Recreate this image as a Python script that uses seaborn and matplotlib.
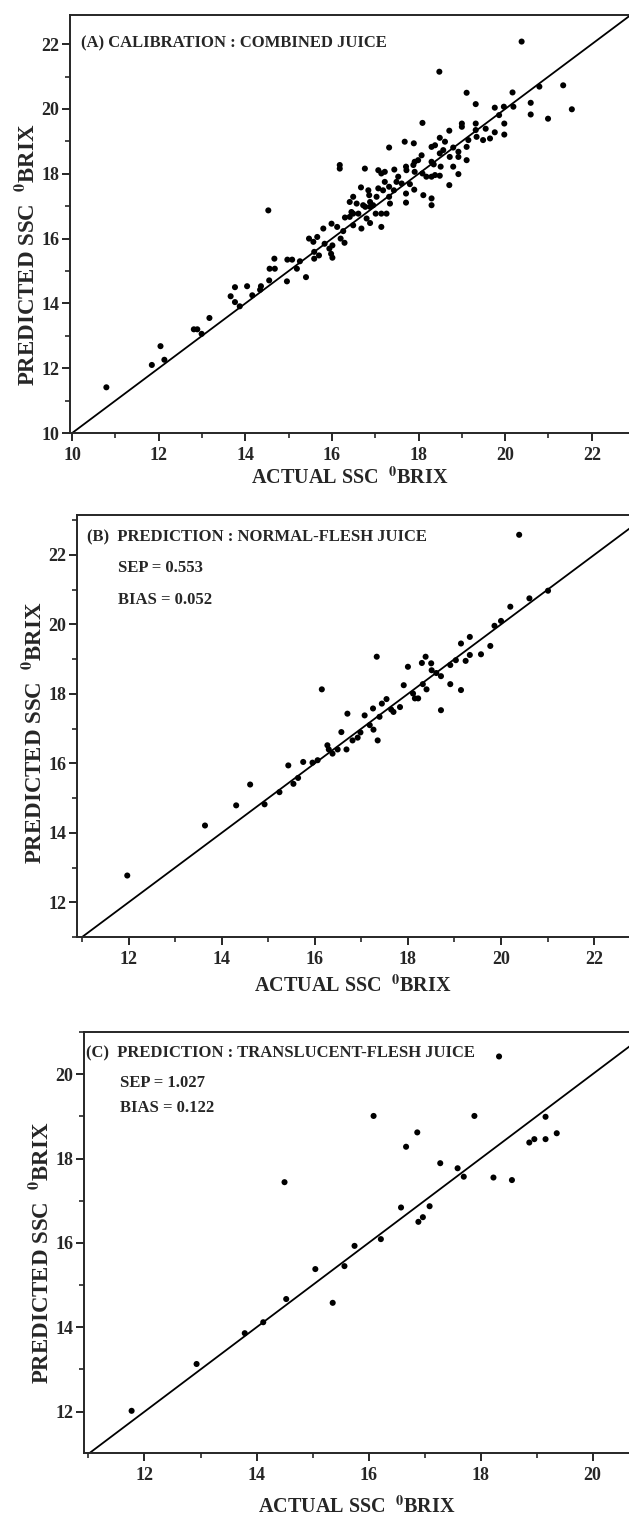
import matplotlib
matplotlib.use("Agg")
import matplotlib.pyplot as plt
from matplotlib.ticker import MultipleLocator
import seaborn as sns
import pandas as pd

# ---------------- data ----------------
a_actual = [20.38, 18.48, 19.11, 20.17, 20.79, 21.34, 19.32, 19.76, 19.97, 20.19, 20.59, 21.54, 19.86, 20.59,
            20.99, 19.98, 19.00, 19.00, 19.32, 19.55, 19.98, 19.76, 19.65, 19.49, 19.34, 19.15, 19.11, 19.32,
            18.71, 18.49, 18.30, 18.09, 17.68, 17.89, 17.32, 18.80, 18.57, 18.49, 18.38, 18.61, 18.92, 18.72,
            18.92, 19.11, 18.07, 17.99, 17.91, 17.88, 18.30, 18.35, 18.51, 18.80, 18.92, 18.71, 18.30, 18.38,
            18.49, 18.18, 18.09, 17.91, 17.72, 17.71, 17.44, 17.53, 17.49, 17.61, 17.80, 17.71, 17.90, 18.11,
            18.30, 18.30, 17.71, 17.32, 17.43, 17.22, 17.14, 17.07, 16.76, 16.18, 16.18, 17.22, 17.18, 17.32,
            17.34, 17.26, 17.03, 17.07, 16.84, 16.86, 16.67, 16.88, 16.72, 16.57, 16.41, 16.49, 16.88, 16.95,
            17.01, 17.14, 16.80, 16.88, 16.68, 16.45, 16.41, 16.30, 17.14, 15.99, 16.12, 15.80, 14.53,
            10.79, 11.84, 12.04, 12.13, 12.81, 12.89, 12.99, 13.17, 13.66, 13.76, 13.76, 13.87, 14.04, 14.16,
            14.34, 14.36, 14.55, 14.56, 14.68, 14.67, 14.96, 14.97, 15.08, 15.19, 15.26, 15.40, 15.47, 15.57,
            15.66, 15.59, 15.70, 15.59, 15.83, 15.94, 16.01, 15.98, 16.01, 16.20, 16.26, 16.29, 16.49, 16.49,
            16.61, 16.77]
a_predicted = [22.08, 21.15, 20.50, 20.51, 20.69, 20.73, 20.15, 20.04, 20.07, 20.07, 20.19, 19.99, 19.81, 19.83,
               19.70, 19.55, 19.55, 19.45, 19.55, 19.39, 19.21, 19.28, 19.09, 19.04, 19.14, 19.04, 18.83, 19.35,
               19.33, 19.11, 18.83, 19.57, 18.99, 18.94, 18.81, 18.81, 18.73, 18.63, 18.88, 18.99, 18.68, 18.52,
               18.52, 18.42, 18.57, 18.42, 18.37, 18.27, 18.37, 18.29, 18.22, 18.22, 17.99, 17.65, 17.91, 17.96,
               17.94, 17.91, 18.01, 18.06, 18.11, 18.22, 18.13, 17.91, 17.75, 17.70, 17.68, 17.39, 17.51, 17.34,
               17.24, 17.03, 17.11, 17.60, 17.49, 18.06, 18.01, 18.11, 18.16, 18.27, 18.16, 17.75, 17.49, 17.29,
               17.08, 16.77, 17.29, 17.55, 17.49, 17.34, 17.58, 17.13, 17.03, 17.08, 17.13, 17.29, 16.98, 17.03,
               16.77, 16.77, 16.62, 16.48, 16.31, 16.82, 16.67, 16.65, 16.36, 16.46, 16.36, 16.31, 16.87,
               11.41, 12.10, 12.68, 12.26, 13.20, 13.20, 13.06, 13.55, 14.22, 14.50, 14.04, 13.91, 14.53, 14.25,
               14.42, 14.53, 14.71, 15.07, 15.07, 15.38, 14.68, 15.35, 15.35, 15.07, 15.30, 14.81, 16.00, 15.90,
               16.05, 15.59, 15.48, 15.38, 15.84, 15.69, 15.79, 15.53, 15.41, 16.00, 16.23, 15.87, 16.77, 16.41,
               16.77, 16.98]

b_actual = [20.39, 21.01, 20.61, 20.20, 20.00, 19.86, 19.77, 19.57, 19.33, 19.33, 19.14, 19.24, 19.03, 18.91,
            18.91, 19.14, 18.71, 18.61, 18.50, 18.38, 18.30, 18.51, 18.71, 18.32, 18.40, 18.11, 18.15, 18.22,
            17.91, 18.00, 17.33, 16.15, 17.25, 17.44, 17.54, 17.64, 17.83, 16.70, 17.07, 11.97, 13.64, 14.31,
            14.61, 14.92, 15.24, 15.43, 15.54, 15.64, 15.75, 15.95, 16.06, 16.27, 16.30, 16.38, 16.49, 16.57,
            16.68, 16.81, 16.92, 16.98, 17.18, 17.26, 17.35, 17.39, 17.69]
b_predicted = [22.58, 20.97, 20.75, 20.51, 20.10, 19.96, 19.38, 19.14, 19.12, 19.64, 19.45, 18.95, 18.97, 18.83,
               18.28, 18.11, 18.51, 18.60, 18.88, 19.07, 18.89, 18.68, 17.53, 18.28, 18.13, 18.01, 17.87, 17.87,
               18.25, 18.78, 19.07, 18.13, 17.58, 17.72, 17.85, 17.55, 17.62, 17.43, 17.38, 12.77, 14.21, 14.79,
               15.39, 14.82, 15.17, 15.94, 15.41, 15.58, 16.04, 16.02, 16.09, 16.52, 16.40, 16.28, 16.40, 16.90,
               16.40, 16.66, 16.74, 16.89, 17.10, 16.97, 16.66, 17.34, 17.48]

c_actual = [18.33, 16.09, 17.89, 16.87, 16.67, 19.16, 19.36, 18.87, 18.96, 19.16, 17.28, 17.59, 17.70, 18.23,
            18.56, 14.50, 16.58, 17.09, 16.97, 16.89, 16.22, 15.75, 15.57, 15.05, 15.36, 14.53, 14.12, 13.79,
            12.93, 11.77]
c_predicted = [20.42, 19.01, 19.01, 18.62, 18.28, 18.99, 18.60, 18.38, 18.46, 18.46, 17.89, 17.77, 17.57, 17.55,
               17.49, 17.44, 16.84, 16.87, 16.61, 16.50, 16.09, 15.93, 15.45, 15.38, 14.58, 14.67, 14.12, 13.86,
               13.13, 12.02]

ref_a = [10, 23]
ref_b = [11, 23.2]
ref_c = [11, 21]

titles = ["(A) CALIBRATION : COMBINED JUICE",
          "(B)  PREDICTION : NORMAL-FLESH JUICE",
          "(C)  PREDICTION : TRANSLUCENT-FLESH JUICE"]
stats_b = ["SEP = 0.553", "BIAS = 0.052"]
stats_c = ["SEP = 1.027", "BIAS = 0.122"]

xlabel = r"ACTUAL SSC  $^{\mathbf{0}}$BRIX"
ylabel = r"PREDICTED SSC  $^{\mathbf{0}}$BRIX"

# ---------------- style ----------------
sns.set_style("ticks")
plt.rcParams["font.family"] = ["Liberation Serif", "DejaVu Serif"]
plt.rcParams["font.weight"] = "bold"
plt.rcParams["mathtext.fontset"] = "stix"
plt.rcParams["axes.linewidth"] = 1.4

W, H = 629, 1517
fig = plt.figure(figsize=(W / 100, H / 100), dpi=100)


def make_axes(left, top, bottom):
    return fig.add_axes([left / W, 1 - bottom / H, (W - left) / W, (bottom - top) / H])


panels = [
    dict(ax=make_axes(70, 15, 433), x=a_actual, y=a_predicted, ref=ref_a,
         xlim=(9.95, 22.86), ylim=(10, 22.9), title=titles[0], stats=None,
         tx=11, ty=43 - 15, ly=31, lx=34),
    dict(ax=make_axes(77, 515, 937), x=b_actual, y=b_predicted, ref=ref_b,
         xlim=(10.89, 22.75), ylim=(11, 23.15), title=titles[1], stats=stats_b,
         tx=10, ty=537 - 515, sx=41, sy=[568 - 515, 600 - 515], ly=7, lx=38),
    dict(ax=make_axes(84, 1032, 1453), x=c_actual, y=c_predicted, ref=ref_c,
         xlim=(10.92, 20.65), ylim=(11.02, 21.0), title=titles[2], stats=stats_c,
         tx=2, ty=1053 - 1032, sx=36, sy=[1083 - 1032, 1108 - 1032], ly=10, lx=43),
]

for p in panels:
    ax = p["ax"]
    df = pd.DataFrame({"actual": p["x"], "predicted": p["y"]})
    sns.scatterplot(data=df, x="actual", y="predicted", ax=ax, color="black",
                    s=19, edgecolor="none", linewidth=0, legend=False)
    sns.lineplot(x=p["ref"], y=p["ref"], ax=ax, color="black", linewidth=1.3,
                 estimator=None, sort=False)
    ax.set_xlim(*p["xlim"])
    ax.set_ylim(*p["ylim"])
    ax.xaxis.set_major_locator(MultipleLocator(2))
    ax.xaxis.set_minor_locator(MultipleLocator(1))
    ax.yaxis.set_major_locator(MultipleLocator(2))
    ax.yaxis.set_minor_locator(MultipleLocator(1))
    ax.spines["right"].set_visible(False)
    ax.spines["top"].set_visible(True)
    ax.tick_params(which="major", direction="out", length=6, width=1.4,
                   labelsize=13, top=False, right=False)
    ax.tick_params(which="minor", direction="out", length=3.5, width=1.2,
                   top=False, right=False)
    ax.tick_params(axis="x", pad=4)
    ax.tick_params(axis="y", pad=1.5)
    for lab in ax.get_xticklabels() + ax.get_yticklabels():
        lab.set_fontweight("bold")
    ax.set_xlabel(xlabel, fontsize=14.5, fontweight="bold")
    ax.set_ylabel(ylabel, fontsize=16.5, fontweight="bold")
    bb = ax.get_position()
    wpx, hpx = bb.width * W, bb.height * H
    ax.xaxis.set_label_coords(0.5, -p["lx"] / hpx)
    ax.yaxis.set_label_coords(-31 / wpx, 0.5 - p["ly"] / hpx)
    ax.text(p["tx"] / wpx, 1 - p["ty"] / hpx, p["title"], transform=ax.transAxes,
            fontsize=12, fontweight="bold", ha="left", va="center")
    if p["stats"]:
        for s, yy in zip(p["stats"], p["sy"]):
            ax.text(p["sx"] / wpx, 1 - yy / hpx, s, transform=ax.transAxes,
                    fontsize=12, fontweight="bold", ha="left", va="center")

fig.savefig("out.png", dpi=100)
